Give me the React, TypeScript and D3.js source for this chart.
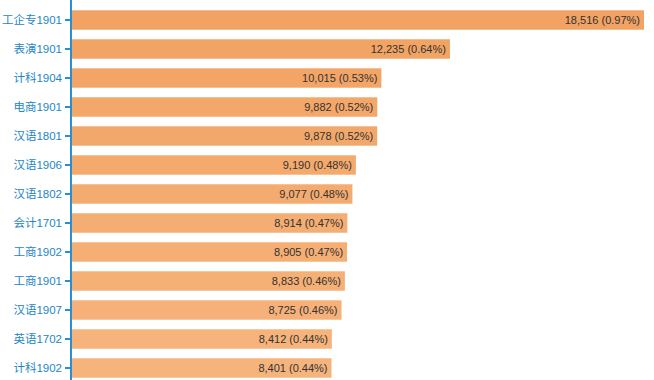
import React from "react";
import * as d3 from "d3";

const categories = ["工企专1901", "表演1901", "计科1904", "电商1901", "汉语1801", "汉语1906", "汉语1802", "会计1701", "工商1902", "工商1901", "汉语1907", "英语1702", "计科1902"];
const values = [18516, 12235, 10015, 9882, 9878, 9190, 9077, 8914, 8905, 8833, 8725, 8412, 8401];
const percents = ["0.97%", "0.64%", "0.53%", "0.52%", "0.52%", "0.48%", "0.48%", "0.47%", "0.47%", "0.46%", "0.46%", "0.44%", "0.44%"];

const W = 654;
const H = 380;

export default function App() {
  const x = d3.scaleLinear().domain([0, d3.max(values) as number]).range([72, 644]);
  const y = d3.scaleBand<string>().domain(categories).range([5.5, 382.5]).paddingInner(0.33).paddingOuter(0.165);
  const color = d3.scaleLinear<string>().domain([0, categories.length - 1]).range(["#F2A262", "#F6B47D"]);
  const fmt = d3.format(",");
  return (
    <svg width={W} height={H} style={{ position: "absolute", left: 0, top: 0, fontFamily: "'Liberation Sans', Arial, 'Noto Sans CJK SC', sans-serif" }}>
      {categories.map((c, i) => {
        const yy = y(c) as number;
        const bh = y.bandwidth();
        return (
          <g key={c}>
            <rect x={x(0)} y={yy} width={x(values[i]) - x(0)} height={bh} fill={color(i)} />
            <text x={x(values[i]) - 4} y={yy + bh / 2} dy="0.35em" textAnchor="end" fontSize={11} fill="#333">
              {fmt(values[i])} ({percents[i]})
            </text>
            <line x1={65} x2={71} y1={yy + bh / 2} y2={yy + bh / 2} stroke="#2A8ECF" strokeWidth={2} />
            <text x={62} y={yy + bh / 2} dy="0.35em" textAnchor="end" fontSize={11.5} fill="#1E86C6">
              {c}
            </text>
          </g>
        );
      })}
      <line x1={71} x2={71} y1={0} y2={H} stroke="#2A8ECF" strokeWidth={2} />
    </svg>
  );
}
